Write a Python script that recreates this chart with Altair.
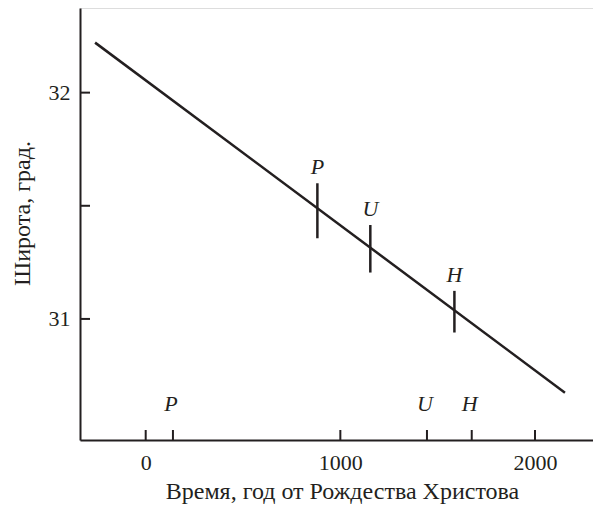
import altair as alt
import pandas as pd

# Data
trend_year = [-260, 2154]
trend_lat = [32.221, 30.674]

obs_names = ["P", "U", "H"]
obs_year = [882, 1154, 1586]
obs_lat = [31.478, 31.310, 31.032]
obs_err = [0.1215, 0.105, 0.092]

date_year = [140, 1445, 1675]          # actual dates of the catalogues

x_tick_values = [0, 140, 1000, 1445, 1675, 2000]
x_label_values = [0, 1000, 2000]
y_tick_values = [31, 31.5, 32]
y_label_values = [31, 32]

x_domain = [-337.5, 2298]
y_domain = [30.465, 32.374]

W, H = 513, 432
FONT = "Liberation Serif"
INK = "#231f20"

trend = pd.DataFrame({"year": trend_year, "lat": trend_lat})
obs = pd.DataFrame({
    "name": obs_names,
    "year": obs_year,
    "lat": obs_lat,
    "lo": [l - e for l, e in zip(obs_lat, obs_err)],
    "hi": [l + e for l, e in zip(obs_lat, obs_err)],
})
dates = pd.DataFrame({"name": obs_names, "year": date_year})
xt = pd.DataFrame({"year": x_tick_values})
yt = pd.DataFrame({"lat": y_tick_values})

xs = alt.Scale(domain=x_domain, nice=False, zero=False)
ys = alt.Scale(domain=y_domain, nice=False, zero=False)

x_axis = alt.Axis(
    values=x_label_values, ticks=False, grid=False, domainColor=INK, domainWidth=2,
    labelFont=FONT, labelFontSize=22, labelColor=INK, labelPadding=12,
    title="Время, год от Рождества Христова", titleFont=FONT, titleFontSize=24,
    titleFontWeight="normal", titleColor=INK, format="d",
    titleX=262, titleY=58, titleAlign="center", titleBaseline="alphabetic",
)
y_axis = alt.Axis(
    values=y_label_values, ticks=False, grid=False, domainColor=INK, domainWidth=2,
    labelFont=FONT, labelFontSize=22, labelColor=INK, labelPadding=10,
    title="Широта, град.", titleFont=FONT, titleFontSize=24,
    titleFontWeight="normal", titleColor=INK, format="d",
    titleX=-51, titleY=205, titleAlign="center", titleBaseline="alphabetic", titleAngle=-90,
)

line = alt.Chart(trend).mark_line(color=INK, strokeWidth=2.5).encode(
    x=alt.X("year:Q", scale=xs, axis=x_axis),
    y=alt.Y("lat:Q", scale=ys, axis=y_axis),
)

bars = alt.Chart(obs).mark_rule(color=INK, strokeWidth=2.5).encode(
    x=alt.X("year:Q", scale=xs),
    y=alt.Y("lo:Q", scale=ys),
    y2="hi:Q",
)

bar_labels = alt.Chart(obs).mark_text(
    font=FONT, fontSize=22, fontStyle="italic", color=INK, baseline="alphabetic", dy=-9
).encode(
    x=alt.X("year:Q", scale=xs),
    y=alt.Y("hi:Q", scale=ys),
    text="name:N",
)

date_labels = alt.Chart(dates).mark_text(
    font=FONT, fontSize=22, fontStyle="italic", color=INK, baseline="middle", dx=-2
).encode(
    x=alt.X("year:Q", scale=xs),
    y=alt.value(396),
    text="name:N",
)

x_ticks = alt.Chart(xt).mark_rule(color=INK, strokeWidth=2).encode(
    x=alt.X("year:Q", scale=xs),
    y=alt.value(H),
    y2=alt.value(H - 10),
)

y_ticks = alt.Chart(yt).mark_rule(color=INK, strokeWidth=2).encode(
    y=alt.Y("lat:Q", scale=ys),
    x=alt.value(0),
    x2=alt.value(10),
)

chart = alt.layer(line, bars, bar_labels, date_labels, x_ticks, y_ticks).properties(
    width=W, height=H,
    autosize=alt.AutoSizeParams(type="none"),
    padding={"left": 72, "top": 0, "right": 0, "bottom": 64},
).configure_view(stroke=None).configure(background="white")

chart.save("out.html", embed_options={"renderer": "svg", "actions": False})
